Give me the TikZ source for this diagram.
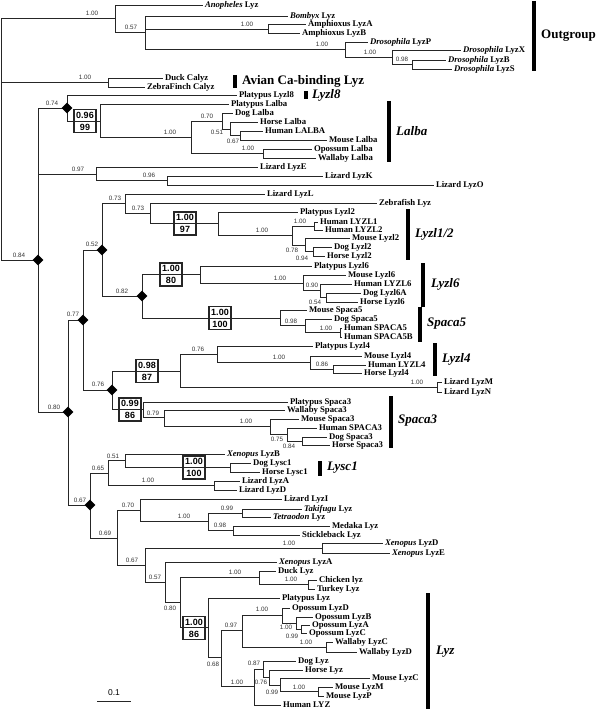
\documentclass[tikz,border=0pt]{standalone}
\usepackage{fontspec}
\setmainfont{Liberation Serif}
\newfontfamily\numfont{Liberation Sans}
\usetikzlibrary{shapes.geometric}
\tikzset{
 br/.style={draw=black!85, line width=0.9pt},
 leaf/.style={anchor=west, font=\fontsize{8.7}{9}\selectfont\bfseries, inner xsep=1.8pt, inner ysep=0pt, text height=6pt, text depth=1.6pt},
 sup/.style={font=\numfont\fontsize{6.3}{7}\selectfont, text=black!80, inner sep=0pt},
 bt/.style={font=\numfont\fontsize{9}{10}\selectfont\bfseries, inner sep=0pt},
 bx/.style={draw=black!85, line width=1.1pt, minimum width=22pt, minimum height=23pt, inner sep=0pt},
 dia/.style={diamond, fill=black, inner sep=0pt, minimum width=11pt, minimum height=11pt},
 gbar/.style={line width=3.5pt, black},
 grp/.style={anchor=west, font=\fontsize{13}{14}\selectfont\bfseries, inner sep=0pt},
}
\newcommand\nd[3]{\coordinate (#1) at (#3); \draw[br] (#2) |- (#1);}
\newcommand\lf[4]{\node[leaf] (#1) at (#3) {#4}; \draw[br] (#2) |- (#1.west);}
\newcommand\sv[3]{\node[sup] (#1) at (#2) {#3};}
\newcommand\bbox[5]{\node[bx] (#1) at (#2,#3) {};
 \node[bt] (#1t) at (#2,#3-6) {#4};
 \node[bt] (#1b) at (#2,#3+6) {#5};}
\newcommand\gb[4]{\coordinate (#1a) at (#2,#3); \coordinate (#1b) at (#2,#4); \draw[gbar] (#1a) -- (#1b);}
\begin{document}
\begin{tikzpicture}[x=1pt,y=-1pt]
\fill[white] (0,0) rectangle (600,711);
\useasboundingbox (0,0) rectangle (600,711);
\coordinate (R) at (1,139);
% Outgroup
\nd{O1}{R}{115,18}
\lf{anoph}{O1}{203,5}{\textit{Anopheles} Lyz}
\nd{O2}{O1}{145,32}
\lf{bomb}{O2}{288,16}{\textit{Bombyx} Lyz}
\nd{O3}{O2}{268,29}
\lf{amphA}{O3}{306,24}{Amphioxus LyzA}
\lf{amphB}{O3}{300,33}{Amphioxus LyzB}
\nd{D1}{O2}{345,49}
\lf{droP}{D1}{368,42}{\textit{Drosophila} LyzP}
\nd{D2}{D1}{392,57}
\lf{droX}{D2}{461,50}{\textit{Drosophila} LyzX}
\nd{D3}{D2}{412,64.5}
\lf{droB}{D3}{446,60}{\textit{Drosophila} LyzB}
\lf{droS}{D3}{452,69}{\textit{Drosophila} LyzS}
\sv{s1}{92,13}{1.00}
\sv{s2}{131,27}{0.57}
\sv{s3}{247,24}{1.00}
\sv{s4}{322,44}{1.00}
\sv{s5}{370,52}{1.00}
\sv{s6}{402,59}{0.98}
\gb{gout}{534}{1}{71}
\node[grp] (g-out) at (541,36) {Outgroup};
% Avian
\nd{A1}{R}{108,82.5}
\lf{duckc}{A1}{163,78}{Duck Calyz}
\lf{zfc}{A1}{145,87}{ZebraFinch Calyz}
\sv{s7}{85,77}{1.00}
\gb{gav}{235}{75}{88}
\node[grp] (g-av) at (242,81) {Avian Ca-binding Lyz};
% Main
\nd{M84}{R}{38,260}
\sv{s8}{19,255}{0.84}
\nd{M74}{M84}{67,108}
\sv{s9}{52,103}{0.74}
\lf{platl8}{M74}{237,95}{Platypus Lyzl8}
\gb{gl8}{306}{91}{99}
\node[grp] (g-l8) at (312,95) {\textit{Lyzl8}};
\nd{L96}{M74}{100,121}
\lf{platla}{L96}{229,104}{Platypus Lalba}
\nd{L100a}{L96}{191,137}
\sv{s10}{170,132}{1.00}
\nd{L70}{L100a}{222,121}
\sv{s11}{207,116}{0.70}
\lf{dogla}{L70}{233,113}{Dog Lalba}
\nd{L51}{L70}{230,129}
\sv{s12}{217,132}{0.51}
\lf{horla}{L51}{258,122}{Horse Lalba}
\nd{L67}{L51}{240,135.5}
\sv{s13}{233,141}{0.67}
\lf{humla}{L67}{263,131}{Human LALBA}
\lf{mousla}{L67}{327,140}{Mouse Lalba}
\nd{L100b}{L100a}{263,153.5}
\sv{s14}{248,148}{1.00}
\lf{opla}{L100b}{312,149}{Opossum Lalba}
\lf{wala}{L100b}{316,158}{Wallaby Lalba}
\gb{gla}{389}{101}{162}
\node[grp] (g-la) at (396,131) {\textit{Lalba}};
% Lizards
\nd{LZ97}{M84}{96,174}
\sv{s15}{78,169}{0.97}
\lf{lzE}{LZ97}{258,167}{Lizard LyzE}
\nd{LZ96}{LZ97}{167,180.5}
\sv{s16}{149,175}{0.96}
\lf{lzK}{LZ96}{323,176}{Lizard LyzK}
\lf{lzO}{LZ96}{434,185}{Lizard LyzO}
% N80 block
\nd{N80}{M84}{68,412} \sv{s17}{54,407}{0.80}
\nd{N77}{N80}{83,320} \sv{s18}{73,314}{0.77}
\nd{N52}{N77}{102,250} \sv{s19}{92,244}{0.52}
\nd{N73a}{N52}{125,203} \sv{s20}{115,198}{0.73}
\lf{lzL}{N73a}{265,194}{Lizard LyzL}
\nd{N73b}{N73a}{150,213} \sv{s21}{138,208}{0.73}
\lf{zebra}{N73b}{377,203}{Zebrafish Lyz}
\nd{B97}{N73b}{218,223.5}
\lf{platl2}{B97}{298,212}{Platypus Lyzl2}
\nd{N100c}{B97}{292,235.5} \sv{s22}{262,230}{1.00}
\nd{N100d}{N100c}{314,226} \sv{s23}{300,221}{1.00}
\lf{hL1}{N100d}{318,222}{Human LYZL1}
\lf{hL2}{N100d}{323,230}{Human LYZL2}
\nd{N78}{N100c}{305,245} \sv{s24}{292,250}{0.78}
\lf{mL2}{N78}{350,238}{Mouse Lyzl2}
\nd{N94}{N78}{313,251.5} \sv{s25}{302,258}{0.94}
\lf{dL2}{N94}{332,247}{Dog Lyzl2}
\lf{hoL2}{N94}{325,256}{Horse Lyzl2}
\gb{gl12}{408}{209}{260}
\node[grp] (g-l12) at (415,234) {\textit{Lyzl1/2}};
\nd{N82}{N52}{142,296} \sv{s26}{122,291}{0.82}
\nd{B80}{N82}{200,274.5}
\lf{platl6}{B80}{312,266}{Platypus Lyzl6}
\nd{N100e}{B80}{303,283} \sv{s27}{280,278}{1.00}
\lf{mL6}{N100e}{346,275}{Mouse Lyzl6}
\nd{N90}{N100e}{320,290.5} \sv{s28}{312,285}{0.90}
\lf{hL6}{N90}{352,284}{Human LYZL6}
\nd{N54}{N90}{326,297.5} \sv{s29}{315,302}{0.54}
\lf{dL6}{N54}{361,293}{Dog Lyzl6A}
\lf{hoL6}{N54}{358,302}{Horse Lyzl6}
\gb{gl6}{423}{263}{307}
\node[grp] (g-l6) at (431,284) {\textit{Lyzl6}};
\nd{B100}{N82}{280,318}
\lf{msp5}{B100}{307,310}{Mouse Spaca5}
\nd{N98}{B100}{305,325.75} \sv{s30}{291,321}{0.98}
\lf{dsp5}{N98}{332,319}{Dog Spaca5}
\nd{N100f}{N98}{340,332.5} \sv{s31}{326,328}{1.00}
\lf{hsp5}{N100f}{342,328}{Human SPACA5}
\lf{hsp5b}{N100f}{342,337}{Human SPACA5B}
\gb{gsp5}{420}{307}{342}
\node[grp] (g-sp5) at (427,324) {\textit{Spaca5}};
\nd{N76}{N77}{112,390} \sv{s32}{98,384}{0.76}
\nd{B87}{N76}{180,371}
\nd{N76b}{B87}{217,354.5} \sv{s33}{198,349}{0.76}
\lf{pl4}{N76b}{313,346}{Platypus Lyzl4}
\nd{N100g}{N76b}{310,362.5} \sv{s34}{279,357}{1.00}
\lf{ml4}{N100g}{362,356}{Mouse Lyzl4}
\nd{N86}{N100g}{333,369} \sv{s35}{322,364}{0.86}
\lf{hl4}{N86}{366,365}{Human LYZL4}
\lf{hol4}{N86}{362,373}{Horse Lyzl4}
\nd{N100h}{B87}{437,387} \sv{s36}{417,382}{1.00}
\lf{lzM}{N100h}{442,382}{Lizard LyzM}
\lf{lzN}{N100h}{442,392}{Lizard LyzN}
\gb{gl4}{435}{343}{376}
\node[grp] (g-l4) at (442,359) {\textit{Lyzl4}};
\nd{B86}{N76}{143,409.5}
\lf{psp3}{B86}{288,402}{Platypus Spaca3}
\nd{N79}{B86}{164,417.5} \sv{s37}{153,413}{0.79}
\lf{wsp3}{N79}{285,410}{Wallaby Spaca3}
\nd{N100i}{N79}{270,426} \sv{s38}{246,421}{1.00}
\lf{msp3}{N100i}{299,419}{Mouse Spaca3}
\nd{N75}{N100i}{287,434} \sv{s39}{277,439}{0.75}
\lf{hsp3}{N75}{317,428}{Human SPACA3}
\nd{N84b}{N75}{302,441} \sv{s40}{289,446}{0.84}
\lf{dsp3}{N84b}{327,437}{Dog Spaca3}
\lf{hosp3}{N84b}{330,445}{Horse Spaca3}
\gb{gsp3}{391}{396}{448}
\node[grp] (g-sp3) at (398,421) {\textit{Spaca3}};
\nd{N67}{N80}{90,505} \sv{s41}{80,500}{0.67}
\nd{N65}{N67}{108,473.5} \sv{s42}{98,468}{0.65}
\nd{N51}{N65}{125,460.5} \sv{s43}{113,456}{0.51}
\lf{xB}{N51}{225,454}{\textit{Xenopus} LyzB}
\nd{B100b}{N51}{230,467.5}
\lf{dlysc}{B100b}{251,463}{Dog Lysc1}
\lf{hlysc}{B100b}{260,472}{Horse Lysc1}
\gb{gly}{320}{461}{476}
\node[grp] (g-ly) at (327,468) {\textit{Lysc1}};
\nd{N100j}{N65}{214,485.5} \sv{s44}{148,480}{1.00}
\lf{lzA}{N100j}{240,481}{Lizard LyzA}
\lf{lzD}{N100j}{237,490}{Lizard LyzD}
\nd{N69}{N67}{117,538} \sv{s45}{105,533}{0.69}
\nd{N70}{N69}{140,510.5} \sv{s46}{128,505}{0.70}
\lf{lzI}{N70}{282,499}{Lizard LyzI}
\nd{N100k}{N70}{208,521.75} \sv{s47}{184,516}{1.00}
\nd{N99}{N100k}{242,513} \sv{s48}{227,508}{0.99}
\lf{taki}{N99}{302,509}{\textit{Takifugu} Lyz}
\lf{tetra}{N99}{271,517}{\textit{Tetraodon} Lyz}
\nd{N98b}{N100k}{233,530.5} \sv{s49}{220,525}{0.98}
\lf{medaka}{N98b}{330,526}{Medaka Lyz}
\lf{stick}{N98b}{300,535}{Stickleback Lyz}
\nd{N67b}{N69}{145,565} \sv{s50}{132,560}{0.67}
\nd{N100l}{N67b}{322,548} \sv{s51}{289,543}{1.00}
\lf{xD}{N100l}{383,543}{\textit{Xenopus} LyzD}
\lf{xE}{N100l}{390,553}{\textit{Xenopus} LyzE}
\nd{N57}{N67b}{165,582} \sv{s52}{155,577}{0.57}
\lf{xA}{N57}{277,562}{\textit{Xenopus} LyzA}
\nd{N80b}{N57}{180,602.5} \sv{s53}{170,608}{0.80}
\nd{N100m}{N80b}{259,577.75} \sv{s54}{235,572}{1.00}
\lf{duck}{N100m}{276,571}{Duck Lyz}
\nd{N100n}{N100m}{308,584.5} \sv{s55}{291,579}{1.00}
\lf{chick}{N100n}{317,580}{Chicken lyz}
\lf{turk}{N100n}{315,589}{Turkey Lyz}
\nd{B86b}{N80b}{208,627.5}
\lf{platlyz}{B86b}{280,598}{Platypus Lyz}
\nd{N68}{B86b}{221,657} \sv{s56}{213,664}{0.68}
\nd{N97}{N68}{242,630.5} \sv{s57}{231,625}{0.97}
\nd{N100o}{N97}{282,615.5} \sv{s58}{262,609}{1.00}
\lf{opD}{N100o}{290,608}{Opossum LyzD}
\nd{N100p}{N100o}{296,623} \sv{s59}{286,627}{1.00}
\lf{opB}{N100p}{313,617}{Opossum LyzB}
\nd{N99b}{N100p}{301,629} \sv{s60}{292,636}{0.99}
\lf{opA}{N99b}{310,625}{Opossum LyzA}
\lf{opC}{N99b}{307,633}{Opossum LyzC}
\nd{N100q}{N97}{326,647} \sv{s61}{306,642}{1.00}
\lf{walC}{N100q}{333,642}{Wallaby LyzC}
\lf{walD}{N100q}{357,652}{Wallaby LyzD}
\nd{N100r}{N68}{254,686.5} \sv{s62}{237,682}{1.00}
\nd{N87}{N100r}{263,669} \sv{s63}{254,663}{0.87}
\lf{dogl}{N87}{296,661}{Dog Lyz}
\nd{N76c}{N87}{269,677} \sv{s64}{261,682}{0.76}
\lf{horl}{N76c}{303,670}{Horse Lyz}
\nd{N99c}{N76c}{280,685} \sv{s65}{272,692}{0.99}
\lf{mlC}{N99c}{370,678}{Mouse LyzC}
\nd{N100s}{N99c}{318,691.5} \sv{s66}{299,687}{1.00}
\lf{mlM}{N100s}{333,687}{Mouse LyzM}
\lf{mlP}{N100s}{324,696}{Mouse LyzP}
\lf{huml}{N100r}{281,705}{Human LYZ}
\gb{glyz}{428}{593}{709}
\node[grp] (g-lyz) at (436,652) {\textit{Lyz}};
% diamonds
\node[dia] (dM84) at (M84) {};
\node[dia] (dM74) at (M74) {};
\node[dia] (dN80) at (N80) {};
\node[dia] (dN77) at (N77) {};
\node[dia] (dN52) at (N52) {};
\node[dia] (dN82) at (N82) {};
\node[dia] (dN76) at (N76) {};
\node[dia] (dN67) at (N67) {};
% boxes
\bbox{bx96}{85}{121}{0.96}{99}
\bbox{bx97}{185}{223.5}{1.00}{97}
\bbox{bx80}{171}{274.5}{1.00}{80}
\bbox{bx100}{220}{318}{1.00}{100}
\bbox{bx87}{147}{371}{0.98}{87}
\bbox{bx86}{130}{409.5}{0.99}{86}
\bbox{bx100b}{194}{467.5}{1.00}{100}
\bbox{bx86b}{194}{628}{1.00}{86}
% scale bar
\coordinate (sb1) at (97,701); \coordinate (sb2) at (131,701);
\draw[br] (sb1) -- (sb2);
\node[font=\numfont\fontsize{8.5}{9}\selectfont, inner sep=0pt] (sbl) at (114,693) {0.1};
\end{tikzpicture}
\end{document}
